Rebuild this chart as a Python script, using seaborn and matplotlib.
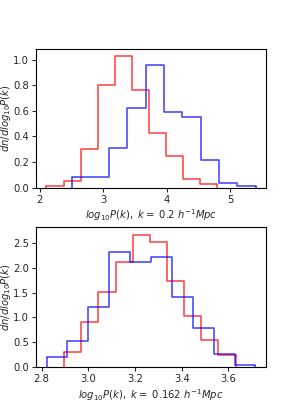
import numpy as np
import pandas as pd
import seaborn as sns
import matplotlib.pyplot as plt

# k = 0.2 h^-1 Mpc
top_red_edges = np.linspace(2.105, 4.795, 11)
top_red_heights = [0.016, 0.05, 0.30, 0.80, 1.03, 0.76, 0.43, 0.25, 0.065, 0.03]
top_blue_edges = np.linspace(2.511, 5.40, 11)
top_blue_heights = [0.083, 0.083, 0.31, 0.625, 0.955, 0.59, 0.555, 0.215, 0.035, 0.016]

# k = 0.162 h^-1 Mpc
bot_red_edges = np.linspace(2.896, 3.631, 11)
bot_red_heights = [0.30, 0.90, 1.51, 2.11, 2.655, 2.53, 1.745, 1.02, 0.54, 0.243]
bot_blue_edges = np.linspace(2.821, 3.716, 11)
bot_blue_heights = [0.209, 0.52, 1.21, 2.33, 2.116, 2.217, 1.42, 0.79, 0.256, 0.034]

k_values = [0.2, 0.162]

FS = 7.2


def step_hist(ax, edges, heights, color):
    centers = 0.5 * (edges[:-1] + edges[1:])
    df = pd.DataFrame({"x": centers, "w": heights})
    sns.histplot(data=df, x="x", weights="w", bins=list(edges), element="step",
                 fill=False, color=color, alpha=0.7, lw=1.2, ax=ax)
    # closing drops to the baseline, like histtype='step'
    ax.vlines([edges[0], edges[-1]], 0, [heights[0], heights[-1]],
              color=color, alpha=0.7, lw=1.2)


sns.set_style("ticks")
plt.rcParams['font.family'] = ['DejaVu Sans']
plt.rcParams['font.size'] = FS

fig = plt.figure(figsize=(2.95, 4.13), dpi=100)
ax1 = fig.add_axes([36 / 295, 1 - 187.7 / 413, 230 / 295, 138.4 / 413])
ax2 = fig.add_axes([36 / 295, 1 - 367 / 413, 230 / 295, 139.7 / 413])

panels = [
    (ax1, top_red_edges, top_red_heights, top_blue_edges, top_blue_heights, k_values[0]),
    (ax2, bot_red_edges, bot_red_heights, bot_blue_edges, bot_blue_heights, k_values[1]),
]

for ax, re_, rh, be, bh, k in panels:
    step_hist(ax, re_, rh, "red")
    step_hist(ax, be, bh, "blue")
    ax.set_ylabel(r'$dn/dlog_{10}P(k)$', fontsize=FS)
    ax.yaxis.set_label_coords(-0.098, 0.5)
    ax.set_xlabel(r'$log_{10}P(k),\ k=$ ' + str(k) + r' $h^{-1}Mpc$', fontsize=FS, labelpad=2)
    ax.tick_params(labelsize=FS, length=3, width=0.8, pad=2)
    for s in ax.spines.values():
        s.set_visible(True)
        s.set_linewidth(0.8)
        s.set_color("black")

ax1.set_xlim(1.94, 5.565)
ax1.set_ylim(0, 1.08)
ax1.set_yticks([0.0, 0.2, 0.4, 0.6, 0.8, 1.0])
ax1.set_xticks([2, 3, 4, 5])
ax2.set_xlim(2.776, 3.761)
ax2.set_ylim(0, 2.82)
ax2.set_xticks([2.8, 3.0, 3.2, 3.4, 3.6])

fig.savefig("out.png", dpi=100)
